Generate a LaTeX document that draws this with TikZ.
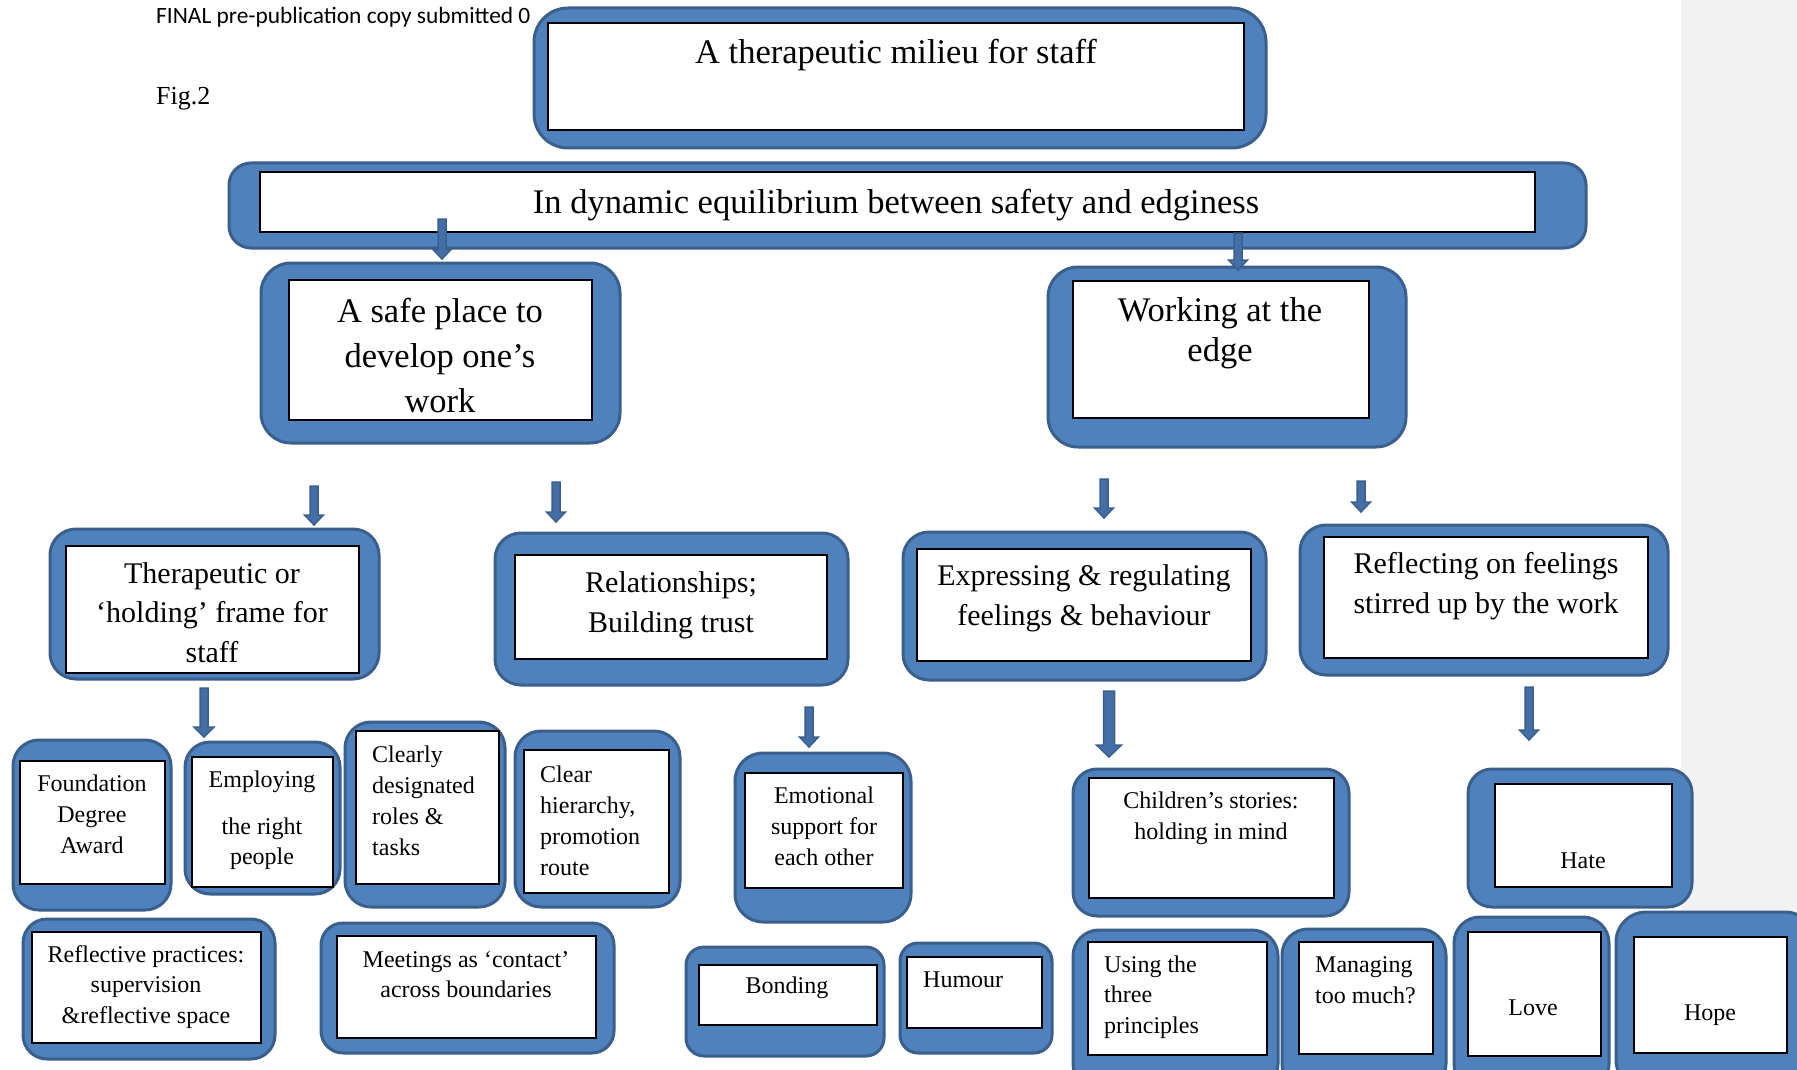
\documentclass[tikz,border=0pt]{standalone}
\usepackage{fontspec}
\setmainfont{Liberation Serif}
\newfontfamily\calib{Carlito}
\usetikzlibrary{fit,calc}
\definecolor{bfill}{HTML}{4F81BD}
\definecolor{bline}{HTML}{3A5F8C}
\definecolor{afill}{HTML}{446FA6}
\definecolor{grayband}{HTML}{F2F2F2}
\newcommand\lc[1]{\vtop{\halign{\hfil##\hfil\cr#1\crcr}}}
\newcommand\lL[1]{\vtop{\halign{##\hfil\cr#1\crcr}}}
\newcommand\barrow[5]{%
  \filldraw[arrowst] ($(#1)+(-#3,0)$) -- ($(#2)+(-#3,-#5)$) -- ($(#2)+(-#4,-#5)$) -- (#2)
    -- ($(#2)+(#4,-#5)$) -- ($(#2)+(#3,-#5)$) -- ($(#1)+(#3,0)$) -- cycle;}
\tikzset{
  obox/.style={draw=bline, fill=bfill, line width=3pt, inner sep=0pt},
  ibox/.style={draw=black, fill=white, line width=1.8pt, inner sep=0pt},
  txt/.style={inner sep=0pt, anchor=base},
  txtl/.style={inner sep=0pt, anchor=base west},
  big/.style={font=\fontsize{34.5}{45}\selectfont},
  mid/.style={font=\fontsize{30}{40}\selectfont},
  sml/.style={font=\fontsize{24}{31}\selectfont},
  arrowst/.style={fill=afill, draw=bline, line width=1.5pt, line join=miter},
}
\begin{document}
\begin{tikzpicture}[x=1pt,y=-1pt]
\useasboundingbox (0,0) rectangle (1797,1070);
\clip (0,0) rectangle (1797,1070);
\fill[white] (0,0) rectangle (1797,1070);
\fill[grayband] (1681,0) rectangle (1797,1070);

% header texts
\node[txtl, font=\calib\fontsize{23.4}{28}\selectfont] (hdr) at (156,24) {FINAL pre-publication copy submitted 0};
\node[txtl, font=\fontsize{26}{30}\selectfont] (fig) at (156,105) {Fig.2};

% A
\node[obox, rounded corners=34pt, fit={(534,8)(1266,148)}] (Ao) {};
\node[ibox, fit={(548,23)(1244,130)}] (Ai) {};
\node[txt, big] (At) at (896,64) {A therapeutic milieu for staff};
% B
\node[obox, rounded corners=22pt, fit={(229,163)(1586,248)}] (Bo) {};
\node[ibox, fit={(260,172)(1535,232)}] (Bi) {};
\node[txt, big] (Bt) at (896,213.5) {In dynamic equilibrium between safety and edginess};
% C
\node[obox, rounded corners=30pt, fit={(261,263)(620,443)}] (Co) {};
\node[ibox, fit={(289,280)(592,420)}] (Ci) {};
\node[txt, big] (Ct) at (440,322) {\lc{A safe place to\cr develop one’s\cr work}};
% D
\node[obox, rounded corners=30pt, fit={(1048,267)(1406,447)}] (Do) {};
\node[ibox, fit={(1073,281)(1369,418)}] (Di) {};
\node[txt, font=\fontsize{34.5}{40}\selectfont] (Dt) at (1220,321) {\lc{Working at the\cr edge}};
% E
\node[obox, rounded corners=26pt, fit={(50,529)(379,679)}] (Eo) {};
\node[ibox, fit={(66,546)(359,673)}] (Ei) {};
\node[txt, font=\fontsize{30}{39.5}\selectfont] (Et) at (212,583) {\lc{Therapeutic or\cr ‘holding’ frame for\cr staff}};
% F
\node[obox, rounded corners=26pt, fit={(495,533)(848,685)}] (Fo) {};
\node[ibox, fit={(515,555)(827,659)}] (Fi) {};
\node[txt, mid] (Ft) at (671,592) {\lc{Relationships;\cr Building trust}};
% G
\node[obox, rounded corners=26pt, fit={(903,532)(1266,680)}] (Go) {};
\node[ibox, fit={(917,549)(1251,661)}] (Gi) {};
\node[txt, mid] (Gt) at (1084,585) {\lc{Expressing \& regulating\cr feelings \& behaviour}};
% H
\node[obox, rounded corners=26pt, fit={(1300,525)(1668,675)}] (Ho) {};
\node[ibox, fit={(1324,537)(1648,658)}] (Hi) {};
\node[txt, mid] (Ht) at (1486,573) {\lc{Reflecting on feelings\cr stirred up by the work}};

% bottom row
\node[obox, rounded corners=26pt, fit={(13,740)(171,910)}] (b1o) {};
\node[ibox, fit={(20,761)(165,884)}] (b1i) {};
\node[txt, sml] (b1t) at (92,791) {\lc{Foundation\cr Degree\cr Award}};

\node[obox, rounded corners=25pt, fit={(185,742)(340,894)}] (b2o) {};
\node[ibox, fit={(192,757)(333,887)}] (b2i) {};
\node[txt, font=\fontsize{24}{30}\selectfont] (b2t) at (262,787) {\lc{Employing\cr\noalign{\vskip17pt}the right\cr people}};

\node[obox, rounded corners=26pt, fit={(345,722)(505,907)}] (b3o) {};
\node[ibox, fit={(356,731)(499,884)}] (b3i) {};
\node[txtl, sml] (b3t) at (372,762) {\lL{Clearly\cr designated\cr roles \&\cr tasks}};

\node[obox, rounded corners=26pt, fit={(515,731)(680,907)}] (b4o) {};
\node[ibox, fit={(524,750)(669,893)}] (b4i) {};
\node[txtl, sml] (b4t) at (540,782) {\lL{Clear\cr hierarchy,\cr promotion\cr route}};

\node[obox, rounded corners=28pt, fit={(735,753)(911,922)}] (b5o) {};
\node[ibox, fit={(745,773)(903,888)}] (b5i) {};
\node[txt, sml] (b5t) at (824,803) {\lc{Emotional\cr support for\cr each other}};

\node[obox, rounded corners=24pt, fit={(23,919)(275,1059)}] (b6o) {};
\node[ibox, fit={(32,932)(261,1043)}] (b6i) {};
\node[txt, font=\fontsize{24}{30.8}\selectfont] (b6t) at (146,962) {\lc{Reflective practices:\cr supervision\cr \&reflective space}};

\node[obox, rounded corners=22pt, fit={(321,923)(614,1053)}] (b7o) {};
\node[ibox, fit={(337,936)(596,1038)}] (b7i) {};
\node[txt, font=\fontsize{24}{30}\selectfont] (b7t) at (466,967) {\lc{Meetings as ‘contact’\cr across boundaries}};

\node[obox, rounded corners=18pt, fit={(686,947)(884,1056)}] (b8o) {};
\node[ibox, fit={(699,965)(877,1025)}] (b8i) {};
\node[txt, sml] (b8t) at (787,993) {Bonding};

\node[obox, rounded corners=18pt, fit={(900,943)(1052,1053)}] (b9o) {};
\node[ibox, fit={(907,957)(1042,1028)}] (b9i) {};
\node[txtl, sml] (b9t) at (923,987) {Humour};

\node[obox, rounded corners=24pt, fit={(1073,769)(1349,916)}] (b10o) {};
\node[ibox, fit={(1089,778)(1334,898)}] (b10i) {};
\node[txt, sml] (b10t) at (1211,808) {\lc{Children’s stories:\cr holding in mind}};

\node[obox, rounded corners=26pt, fit={(1073,930)(1278,1090)}] (b11o) {};
\node[ibox, fit={(1088,942)(1267,1055)}] (b11i) {};
\node[txtl, font=\fontsize{24}{30.8}\selectfont] (b11t) at (1104,972) {\lL{Using the\cr three\cr principles}};

\node[obox, rounded corners=26pt, fit={(1282,929)(1446,1090)}] (b12o) {};
\node[ibox, fit={(1299,942)(1433,1054)}] (b12i) {};
\node[txtl, sml] (b12t) at (1315,972) {\lL{Managing\cr too much?}};

\node[obox, rounded corners=24pt, fit={(1468,769)(1692,907)}] (b13o) {};
\node[ibox, fit={(1495,784)(1672,887)}] (b13i) {};
\node[txt, sml] (b13t) at (1583,868) {Hate};

\node[obox, rounded corners=26pt, fit={(1454,917)(1609,1090)}] (b14o) {};
\node[ibox, fit={(1468,932)(1601,1056)}] (b14i) {};
\node[txt, sml] (b14t) at (1533,1015) {Love};

\node[obox, rounded corners=30pt, fit={(1616,912)(1815,1090)}] (b15o) {};
\node[ibox, fit={(1634,937)(1787,1053)}] (b15i) {};
\node[txt, sml] (b15t) at (1710,1020) {Hope};

% arrows
\coordinate (aBC1) at (442,219);  \coordinate (aBC2) at (442,259);
\coordinate (aBD1) at (1238,233); \coordinate (aBD2) at (1238,270);
\coordinate (aCE1) at (314,486);  \coordinate (aCE2) at (314,525);
\coordinate (aCF1) at (556,482);  \coordinate (aCF2) at (556,522);
\coordinate (aDG1) at (1104,479); \coordinate (aDG2) at (1104,518);
\coordinate (aDH1) at (1361,481); \coordinate (aDH2) at (1361,512);
\coordinate (aE1) at (204,688);   \coordinate (aE2) at (204,737);
\coordinate (aF1) at (809,707);   \coordinate (aF2) at (809,747);
\coordinate (aG1) at (1109,691);  \coordinate (aG2) at (1109,757);
\coordinate (aH1) at (1529,687);  \coordinate (aH2) at (1529,740);
\barrow{aBC1}{aBC2}{4}{9.5}{10}
\barrow{aBD1}{aBD2}{4}{9.5}{10}
\barrow{aCE1}{aCE2}{4}{9.5}{10}
\barrow{aCF1}{aCF2}{4}{9.5}{10}
\barrow{aDG1}{aDG2}{4}{9.5}{10}
\barrow{aDH1}{aDH2}{4}{9.5}{10}
\barrow{aE1}{aE2}{4}{10}{10}
\barrow{aF1}{aF2}{4}{9.5}{10}
\barrow{aG1}{aG2}{5.5}{12.5}{12}
\barrow{aH1}{aH2}{4}{9.5}{10}
\end{tikzpicture}
\end{document}
